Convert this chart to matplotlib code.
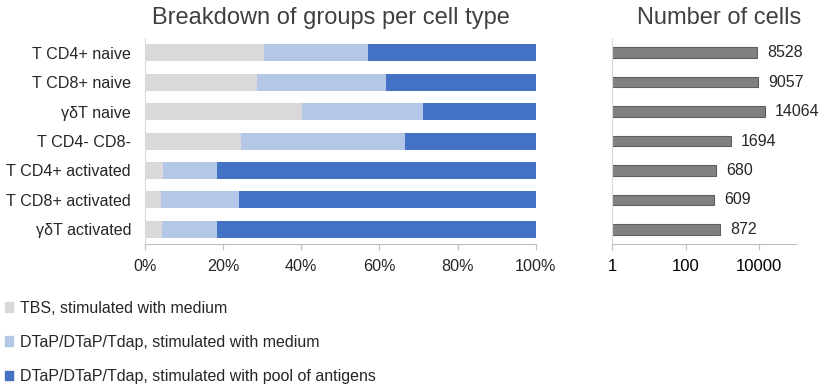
import matplotlib
matplotlib.use('Agg')
import matplotlib.pyplot as plt
from matplotlib.patches import Patch

plt.rcParams['font.family'] = ['Liberation Sans', 'DejaVu Sans']

cell_types = ['T CD4+ naive', 'T CD8+ naive', 'γδT naive', 'T CD4- CD8-',
              'T CD4+ activated', 'T CD8+ activated', 'γδT activated']
# percentages per group
tbs_medium = [30.5, 28.6, 40.1, 24.5, 4.7, 4.0, 4.4]
dtap_medium = [26.5, 33.0, 31.0, 42.0, 13.7, 20.1, 14.0]
dtap_antigens = [43.0, 38.4, 28.9, 33.5, 81.6, 75.9, 81.6]
n_cells = [8528, 9057, 14064, 1694, 680, 609, 872]

group_labels = ['TBS, stimulated with medium',
                'DTaP/DTaP/Tdap, stimulated with medium',
                'DTaP/DTaP/Tdap, stimulated with pool of antigens']
group_colors = ['#d9d9d9', '#b4c7e7', '#4472c4']

fig = plt.figure(figsize=(8.21, 3.88), dpi=100)
ax1 = fig.add_axes([0.1766, 0.371, 0.476, 0.531])
ax2 = fig.add_axes([0.7455, 0.371, 0.224, 0.531])

y = list(range(len(cell_types)))
left = [0] * len(cell_types)
for vals, col in zip([tbs_medium, dtap_medium, dtap_antigens], group_colors):
    ax1.barh(y, vals, left=left, height=0.58, color=col)
    left = [l + v for l, v in zip(left, vals)]

ax1.set_xlim(0, 100)
ax1.set_ylim(len(cell_types) - 0.5, -0.5)
ax1.set_yticks(y)
ax1.set_yticklabels(cell_types, fontsize=11.6, color='#262626')
ax1.set_xticks([0, 20, 40, 60, 80, 100])
ax1.set_xticklabels(['0%', '20%', '40%', '60%', '80%', '100%'], fontsize=11.6, color='#262626')

ax2.barh(y, n_cells, height=0.36, color='#808080', edgecolor='#5f5f5f', linewidth=0.8)
ax2.set_xscale('log')
ax2.set_xlim(1, 1e5)
ax2.set_ylim(len(cell_types) - 0.5, -0.5)
ax2.set_yticks([])
ax2.set_xticks([1, 100, 10000])
ax2.set_xticklabels(['1', '100', '10000'], fontsize=12, color='#000000')
ax2.minorticks_off()
for yi, n in zip(y, n_cells):
    ax2.text(n * 1.9, yi, str(n), va='center', ha='left', fontsize=11.5, color='#262626')

fig.text(0.403, 0.954, 'Breakdown of groups per cell type', ha='center', va='center',
         fontsize=17, color='#404040')
fig.text(0.876, 0.954, 'Number of cells', ha='center', va='center',
         fontsize=17, color='#404040')

for ax in (ax1, ax2):
    for s in ('top', 'right'):
        ax.spines[s].set_visible(False)
    ax.spines['left'].set_color('#d9d9d9')
    ax.spines['bottom'].set_color('#bfbfbf')
    ax.tick_params(axis='y', length=0, pad=10)
    ax.tick_params(axis='x', length=4, color='#bfbfbf', pad=7)

handles = [Patch(color=c) for c in group_colors]
fig.legend(handles, group_labels, loc='upper left', bbox_to_anchor=(-0.012, 0.262),
           frameon=False, fontsize=11.5, handlelength=0.55, handleheight=0.55,
           handletextpad=0.45, labelspacing=1.2, labelcolor='#262626')

fig.savefig('out.png', dpi=100)
